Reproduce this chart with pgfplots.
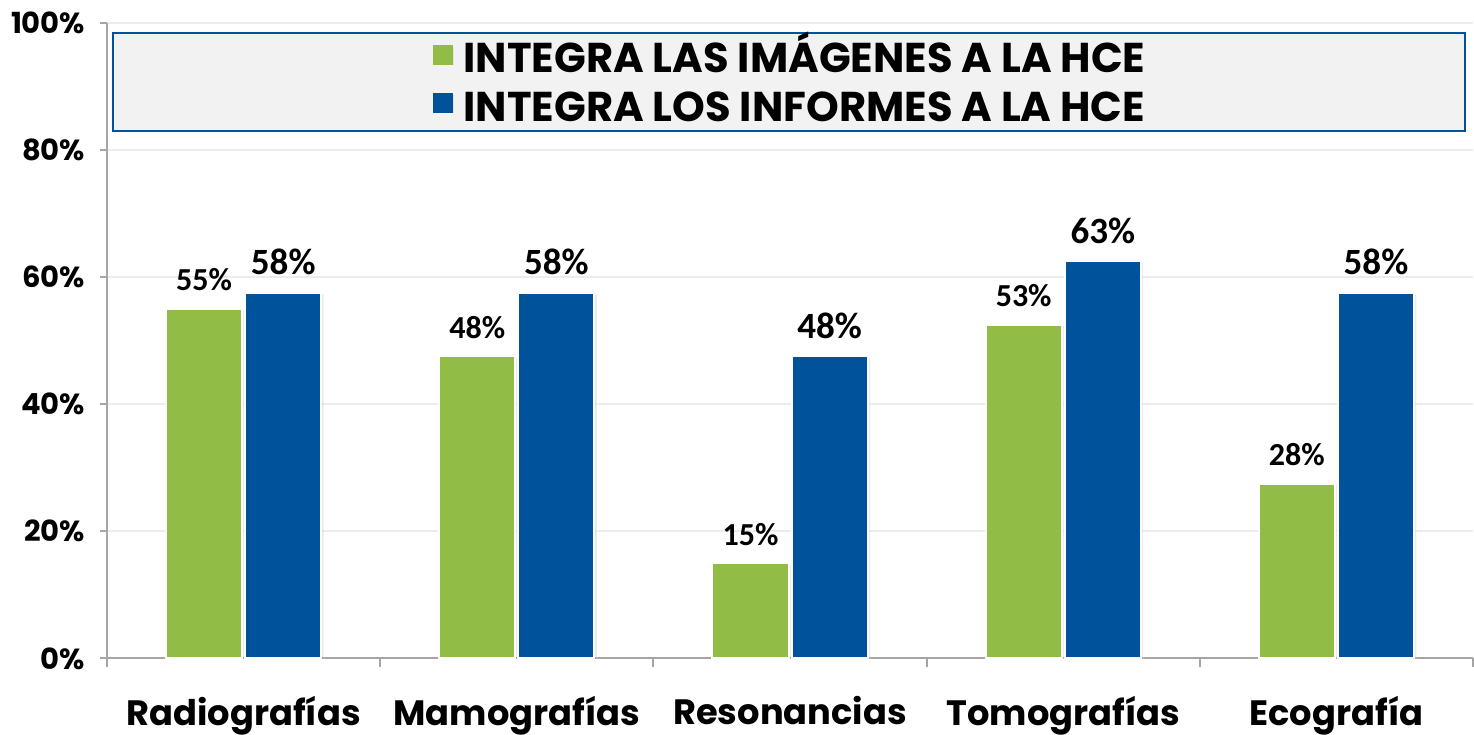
\documentclass[border=0pt]{standalone}
\usepackage{fontspec}
\setmainfont{Poppins}
\newfontfamily\carl{Carlito}
\usepackage{pgfplots}
\pgfplotsset{compat=1.18}
\usetikzlibrary{shadows}
\definecolor{vgreen}{RGB}{145,189,70}
\definecolor{vblue}{RGB}{0,82,155}
\definecolor{axgray}{RGB}{165,165,165}
\definecolor{gridgray}{RGB}{236,236,236}
\definecolor{legfill}{RGB}{242,242,242}
\begin{document}
\begin{tikzpicture}
\begin{axis}[
    scale only axis, width=682pt, height=317.5pt,
    ybar=1.5pt, bar width=38pt,
    xmin=-0.5, xmax=4.5, ymin=0, ymax=100,
    axis lines*=left,
    axis line style={axgray, line width=1pt},
    tick align=outside,
    tick style={axgray, line width=1pt},
    major tick length=3.5pt, minor tick length=4.5pt,
    xtick={0,1,2,3,4},
    xticklabels={Radiografías,Mamografías,Resonancias,Tomografías,Ecografía},
    major x tick style={draw=none},
    minor xtick={-0.5,0.5,1.5,2.5,3.5,4.5},
    ytick={0,20,40,60,80,100},
    yticklabels={0\%,20\%,40\%,60\%,80\%,100\%},
    ymajorgrids, grid style={gridgray, line width=1pt},
    xticklabel style={font=\bfseries\fontsize{17.6}{20}\selectfont,
        inner ysep=0pt, yshift=-15pt},
    yticklabel style={font=\bfseries\fontsize{14.5}{16}\selectfont,
        inner xsep=5.5pt, inner ysep=5.8pt, xshift=-1.8pt},
    point meta=explicit symbolic,
    nodes near coords,
    nodes near coords style={anchor=south, yshift=5pt, text=black},
    legend style={draw=none, fill=none, at={(0.5,0.905)}, anchor=center,
        font=\bfseries\fontsize{20.8}{22}\selectfont, row sep=8pt,
        nodes={inner sep=1pt, text height=14pt, text depth=0pt},
        /tikz/every odd column/.append style={column sep=4.5pt}},
    legend cell align=left,
]
\addplot[fill=vgreen, draw=white, line width=1pt,
    drop shadow={shadow xshift=1.2pt, shadow yshift=-0.6pt, opacity=0.18},
    every node near coord/.append style={font=\carl\bfseries\fontsize{16}{18}\selectfont},
    legend image code/.code={\fill[vgreen] (0pt,-2.5pt) rectangle (9pt,6.5pt);}]
    coordinates {(0,55) [55\%] (1,47.5) [48\%] (2,15) [15\%] (3,52.5) [53\%] (4,27.5) [28\%]};
\addplot[fill=vblue, draw=white, line width=1pt,
    drop shadow={shadow xshift=1.2pt, shadow yshift=-0.6pt, opacity=0.18},
    every node near coord/.append style={font=\carl\bfseries\fontsize{18.5}{20}\selectfont},
    legend image code/.code={\fill[vblue] (0pt,-2.5pt) rectangle (9pt,6.5pt);}]
    coordinates {(0,57.5) [58\%] (1,57.5) [58\%] (2,47.5) [48\%] (3,62.5) [63\%] (4,57.5) [58\%]};
\draw[vblue, line width=1pt, fill=legfill]
    (rel axis cs:0.0044,0.830) rectangle (rel axis cs:0.994,0.984);
\legend{INTEGRA LAS IMÁGENES A LA HCE, INTEGRA LOS INFORMES A LA HCE}
\end{axis}
\end{tikzpicture}
\end{document}
